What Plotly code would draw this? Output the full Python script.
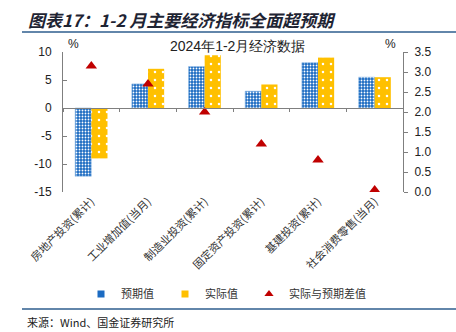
import plotly.graph_objects as go

# 2024年1-2月主要经济指标：预期值、实际值（%，左轴）与实际与预期差值（右轴）
categories = ["房地产投资(累计)", "工业增加值(当月)", "制造业投资(累计)",
              "固定资产投资(累计)", "基建投资(累计)", "社会消费零售(当月)"]
expected = [-12.2, 4.3, 7.4, 3.0, 8.1, 5.5]
actual = [-9.0, 7.0, 9.4, 4.2, 9.0, 5.5]
gap = [3.15, 2.7, 2.0, 1.2, 0.8, 0.05]

left_ticks = [10, 5, 0, -5, -10, -15]
right_ticks = [3.5, 3.0, 2.5, 2.0, 1.5, 1.0, 0.5, 0.0]

W, H = 456, 332
L, R, T, B = 63, 53, 52, 140
PW, PH = W - L - R, H - T - B

def px(x):
    return (x - L) / PW

def py(y):
    return (H - B - y) / PH

BLUE = "#1B6BC2"
GOLD = "#FFC000"
RED = "#C00000"
NAVY = "#2E5E8E"
AXIS = "#7F7F7F"
CJK = "Noto Sans CJK SC"
LAT = "Liberation Sans, Arial"

fig = go.Figure()

fig.add_trace(go.Bar(
    x=categories, y=expected, name="预期值", showlegend=False, legendgroup="e",
    marker=dict(color=BLUE, line=dict(color="#8DB8E6", width=0.6),
                pattern=dict(shape=".", bgcolor=BLUE, fgcolor="white",
                             size=3, solidity=0.3, fillmode="replace")),
))
fig.add_trace(go.Bar(
    x=categories, y=actual, name="实际值", showlegend=False, legendgroup="a",
    marker=dict(color=GOLD, line=dict(width=0),
                pattern=dict(shape=".", bgcolor=GOLD, fgcolor="white",
                             size=8, solidity=0.08, fillmode="replace")),
))
fig.add_trace(go.Scatter(
    x=categories, y=gap, name="实际与预期差值", mode="markers",
    xaxis="x2", yaxis="y2", showlegend=False, legendgroup="g",
    marker=dict(symbol="triangle-up", size=10, color=RED),
))

# legend entries with small symbols, one legend box per entry
fig.add_trace(go.Scatter(x=[None], y=[None], name="预期值", mode="markers",
                         legendgroup="e", legend="legend",
                         marker=dict(symbol="square", size=7, color=BLUE)))
fig.add_trace(go.Scatter(x=[None], y=[None], name="实际值", mode="markers",
                         legendgroup="a", legend="legend2",
                         marker=dict(symbol="square", size=7, color=GOLD)))
fig.add_trace(go.Scatter(x=[None], y=[None], name="实际与预期差值", mode="markers",
                         legendgroup="g", legend="legend3",
                         marker=dict(symbol="triangle-up", size=8, color=RED)))

legend_style = dict(
    orientation="h", y=py(294), xanchor="left", yanchor="middle",
    font=dict(family=CJK, size=11, color="#333333"),
    bgcolor="rgba(0,0,0,0)", itemclick=False, itemdoubleclick=False,
)

fig.update_layout(
    width=W, height=H,
    margin=dict(l=L, r=R, t=T, b=B, pad=0),
    paper_bgcolor="white", plot_bgcolor="white",
    barmode="group", bargap=0.43, bargroupgap=0,
    font=dict(family=CJK, size=11, color="#333333"),
    xaxis=dict(
        type="category", categoryarray=categories, range=[-0.5, 5.5],
        showline=False, ticks="", showgrid=False, zeroline=False,
        tickangle=-45, tickfont=dict(family=CJK, size=11, color="#333333"),
    ),
    xaxis2=dict(
        type="category", categoryarray=categories, range=[-0.5, 5.5],
        overlaying="x", anchor="free", position=py(108),
        showline=True, linecolor=AXIS, linewidth=1,
        ticks="outside", ticklen=3, tickcolor=AXIS, tickson="boundaries",
        showticklabels=False, showgrid=False, zeroline=False,
    ),
    yaxis=dict(
        range=[-15, 10], tickvals=left_ticks, ticktext=[str(v) for v in left_ticks],
        showline=True, linecolor=AXIS, linewidth=1,
        ticks="inside", ticklen=4, tickcolor=AXIS,
        showgrid=False, zeroline=False, ticklabelstandoff=8,
        tickfont=dict(family=LAT, size=12, color="#222222"),
    ),
    yaxis2=dict(
        range=[0, 3.5], tickvals=right_ticks,
        ticktext=[f"{v:.1f}" for v in right_ticks],
        overlaying="y", side="right", anchor="x",
        showline=True, linecolor=AXIS, linewidth=1,
        ticks="outside", ticklen=4, tickcolor=AXIS,
        showgrid=False, zeroline=False, ticklabelstandoff=4,
        tickfont=dict(family=LAT, size=12, color="#222222"),
    ),
    legend=dict(x=px(81), **legend_style),
    legend2=dict(x=px(165), **legend_style),
    legend3=dict(x=px(249), **legend_style),
    showlegend=True,
)

annotations = [
    dict(text="<b><i>图表17：1-2 月主要经济指标全面超预期</i></b>",
         x=px(26), y=py(20), xanchor="left", yanchor="middle",
         font=dict(family=CJK, size=17, color="#1E2433")),
    dict(text="2024年1-2月经济数据", x=px(238), y=py(46),
         xanchor="center", yanchor="middle",
         font=dict(family=LAT, size=14, color="#222222")),
    dict(text="%", x=px(73), y=py(44), xanchor="center", yanchor="middle",
         font=dict(family=LAT, size=12, color="#222222")),
    dict(text="%", x=px(390), y=py(44), xanchor="center", yanchor="middle",
         font=dict(family=LAT, size=12, color="#222222")),
    dict(text="来源：Wind、国金证券研究所", x=px(25), y=py(322),
         xanchor="left", yanchor="middle",
         font=dict(family=CJK, size=11, color="#222222")),
]
for a in annotations:
    a.update(xref="paper", yref="paper", showarrow=False)
fig.update_layout(annotations=annotations)

fig.update_layout(shapes=[
    dict(type="line", xref="paper", yref="paper",
         x0=px(22), x1=px(456), y0=py(32), y1=py(32),
         line=dict(color=NAVY, width=1.5)),
    dict(type="line", xref="paper", yref="paper",
         x0=px(22), x1=px(456), y0=py(309), y1=py(309),
         line=dict(color=NAVY, width=1.5)),
])

fig.write_html("out.html")
